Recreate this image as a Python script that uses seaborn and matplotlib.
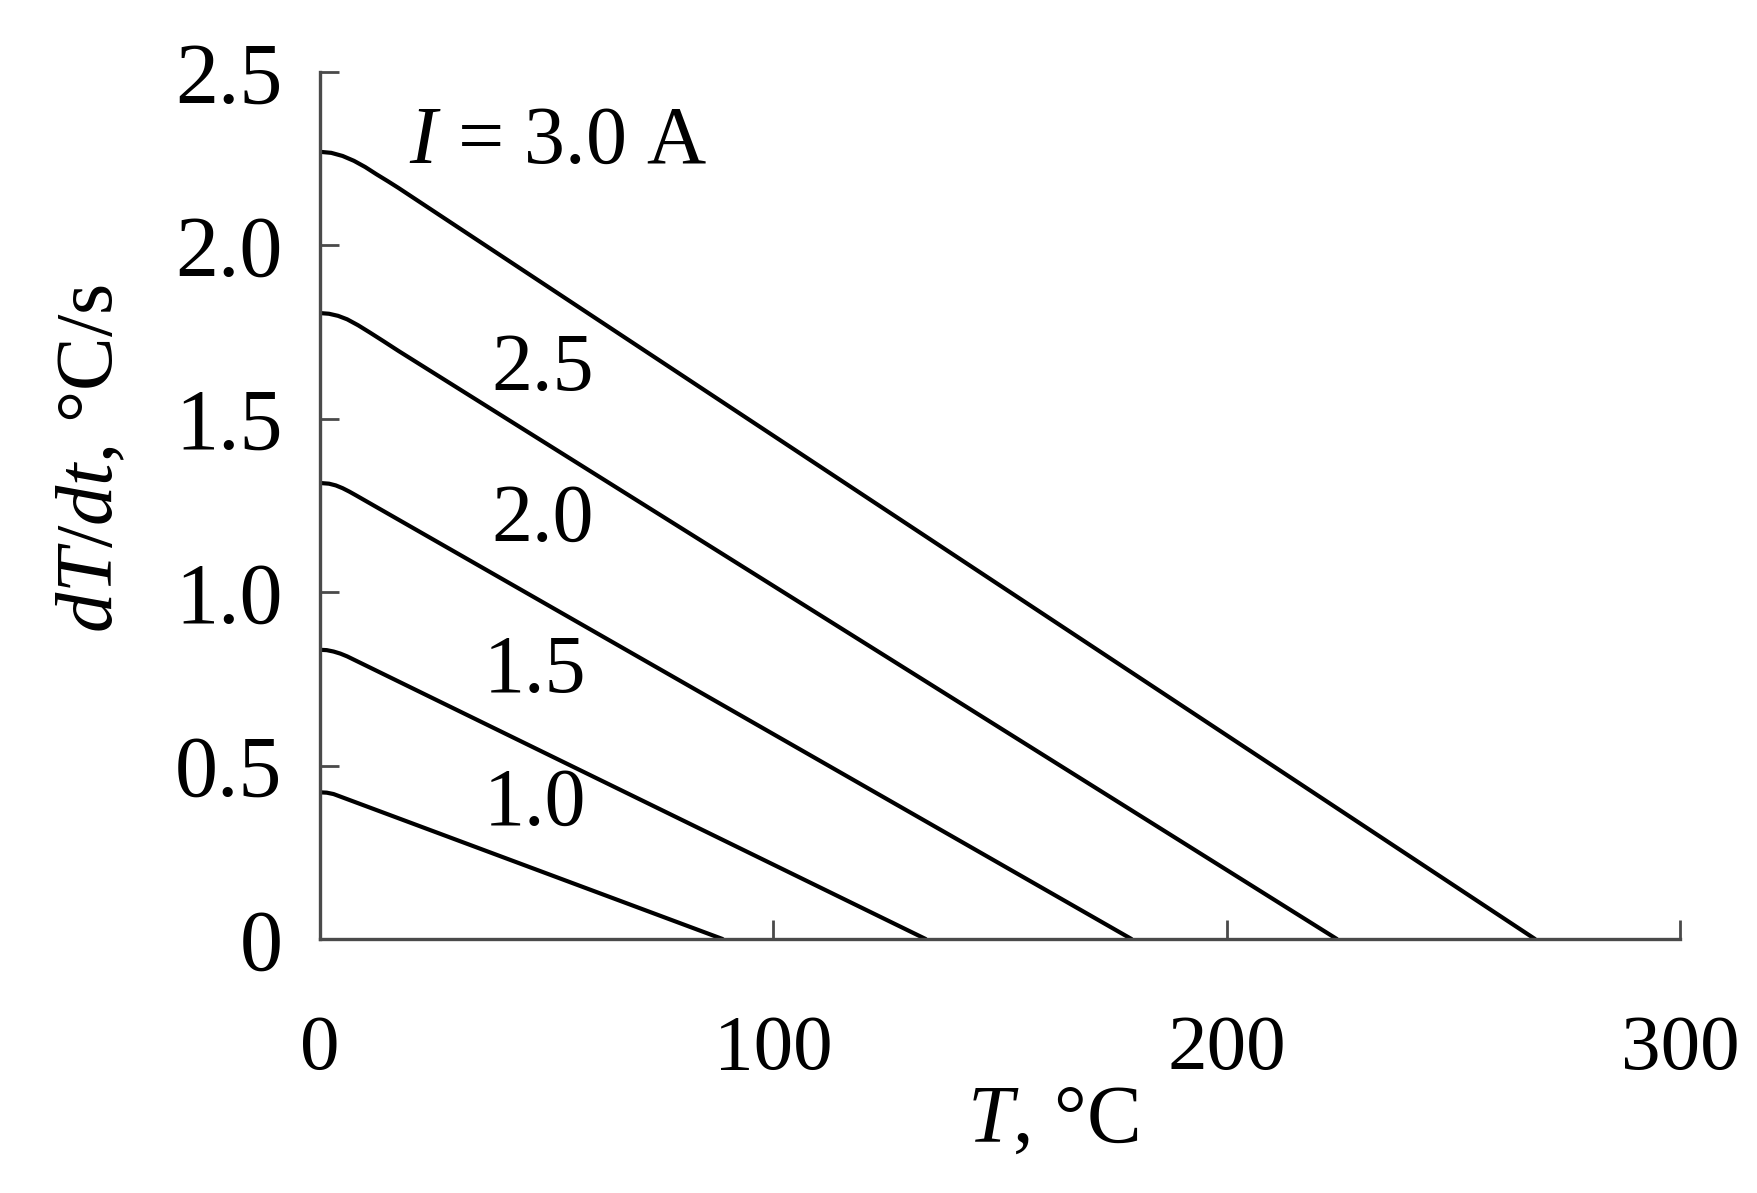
import pandas as pd
import seaborn as sns
import matplotlib.pyplot as plt

# Curves: temperature T (°C) and heating rate dT/dt (°C/s)
currents = ['1.0', '1.5', '2.0', '2.5', '3.0']

t_10 = [0, 1.5, 3, 88.8]
r_10 = [0.423, 0.422, 0.418, 0.0]

t_15 = [0, 1.5, 3, 4.5, 6, 133.6]
r_15 = [0.834, 0.833, 0.829, 0.823, 0.815, 0.0]

t_20 = [0, 2, 3.5, 5, 6.5, 8, 179.0]
r_20 = [1.315, 1.313, 1.308, 1.300, 1.290, 1.279, 0.0]

t_25 = [0, 2, 4, 6, 8.4, 11, 14, 17.3, 224.3]
r_25 = [1.805, 1.803, 1.797, 1.787, 1.770, 1.749, 1.724, 1.696, 0.0]

t_30 = [0, 2.5, 5, 7.5, 10, 12.5, 15, 17.3, 268.0]
r_30 = [2.270, 2.267, 2.258, 2.244, 2.226, 2.205, 2.185, 2.166, 0.0]

x_ticks = [0, 100, 200, 300]
y_ticks = [0, 0.5, 1.0, 1.5, 2.0, 2.5]
y_tick_labels = ['0', '0.5', '1.0', '1.5', '2.0', '2.5']

# Build one long dataframe for seaborn
frames = []
for cur, t, r in zip(currents, [t_10, t_15, t_20, t_25, t_30], [r_10, r_15, r_20, r_25, r_30]):
    frames.append(pd.DataFrame({'T': t, 'rate': r, 'I': cur}))
df = pd.concat(frames, ignore_index=True)

sns.set_theme(style='ticks')
plt.rcParams['font.family'] = ['Liberation Serif', 'DejaVu Serif']
plt.rcParams['mathtext.fontset'] = 'custom'
plt.rcParams['mathtext.rm'] = 'Liberation Serif'
plt.rcParams['mathtext.it'] = 'Liberation Serif:italic'
plt.rcParams['text.color'] = 'black'
plt.rcParams['axes.labelcolor'] = 'black'

fig = plt.figure(figsize=(17.57, 11.93), dpi=100)
ax = fig.add_axes([0.1821, 0.2129, 0.7741, 0.7267])

sns.lineplot(data=df, x='T', y='rate', hue='I', units='I', estimator=None, sort=False,
             palette=['black'] * len(currents), linewidth=3.0, legend=False, ax=ax)
for line in ax.lines:
    line.set_solid_joinstyle('round')
    line.set_solid_capstyle('round')

ax.set_xlim(0, 300)
ax.set_ylim(0, 2.5)
ax.set_xticks(x_ticks)
ax.set_xticklabels([str(v) for v in x_ticks])
ax.set_yticks(y_ticks)
ax.set_yticklabels(y_tick_labels)

sns.despine(ax=ax)
for s in ['left', 'bottom']:
    ax.spines[s].set_color('#4a4a4a')
    ax.spines[s].set_linewidth(2.4)

ax.tick_params(axis='both', direction='in', length=14, width=2, color='#4a4a4a',
               labelcolor='black')
ax.tick_params(axis='y', pad=27, labelsize=62)
ax.tick_params(axis='x', pad=54, labelsize=57)

ax.set_xlabel(r'$T$, °C', fontsize=59)
ax.set_ylabel(r'$dT/dt$, °C/s', fontsize=58)
ax.xaxis.set_label_coords(0.539, -0.168)
ax.yaxis.set_label_coords(-0.14, 0.554)

# Curve labels
ax.text(19.6, 2.295, r'$I$ = 3.0 A', fontsize=59, va='center', ha='left')
ax.text(49.2, 1.64, '2.5', fontsize=59, va='center', ha='center')
ax.text(49.2, 1.205, '2.0', fontsize=59, va='center', ha='center')
ax.text(47.5, 0.77, '1.5', fontsize=59, va='center', ha='center')
ax.text(47.5, 0.386, '1.0', fontsize=59, va='center', ha='center')

ax.set_facecolor('white')
fig.savefig('out.png', dpi=100, facecolor='white')
